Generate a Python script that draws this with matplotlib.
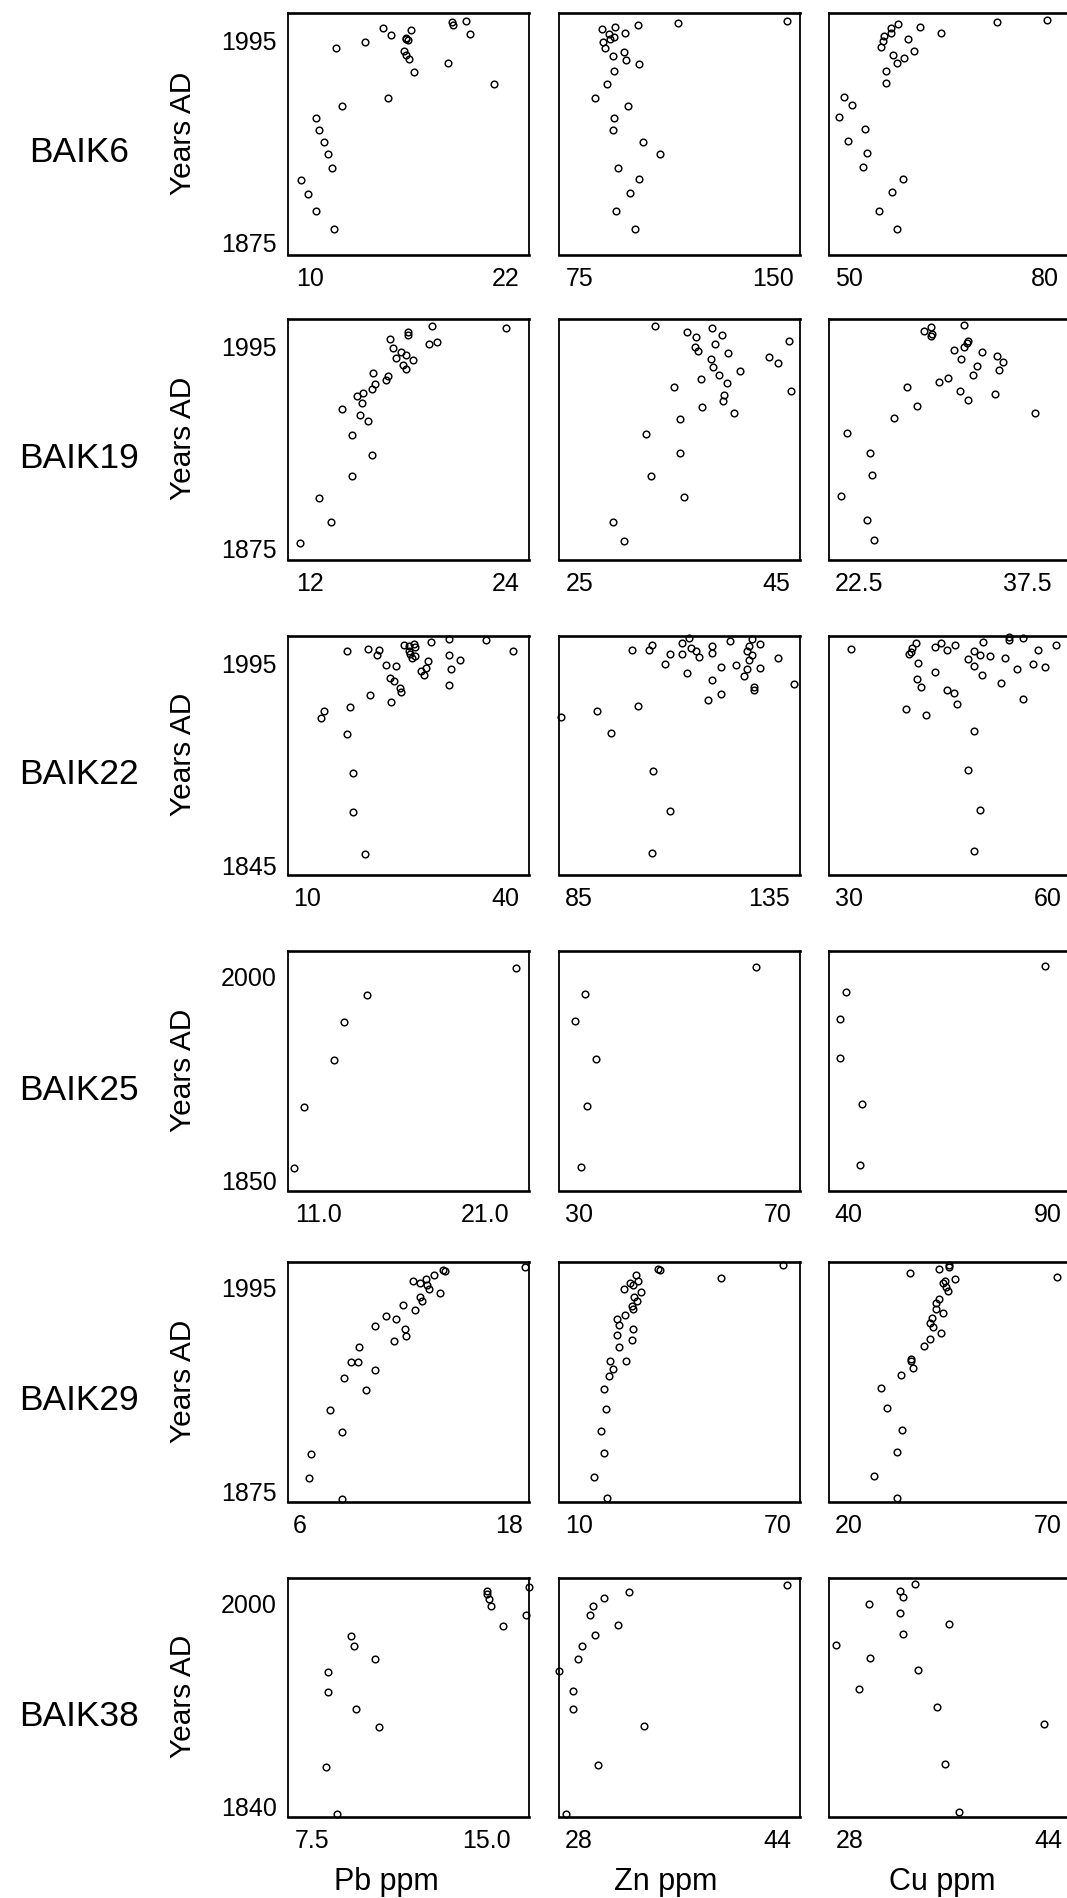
import matplotlib
matplotlib.use("Agg")
import matplotlib.pyplot as plt

plt.rcParams["font.family"] = ["Liberation Sans", "DejaVu Sans"]

# ---- BAIK6 ----
pb6_yr = [2005.4, 2004.8, 2003.3, 2001.7, 2000.5, 1998.1, 1997.4, 1995.8, 1995.0, 1994.2,
          1993.4, 1989.7, 1987.7, 1985.6, 1983.0, 1980.6, 1975.7, 1968.6, 1960.4, 1955.5,
          1948.4, 1941.3, 1934.2, 1927.1, 1918.9, 1911.8, 1903.5, 1893.1, 1882.5]
pb6 = [19.6, 18.7, 18.8, 14.5, 16.2, 19.8, 15.0, 15.9, 15.9, 16.0, 13.4, 11.6, 15.8, 15.9, 16.1,
       18.5, 16.4, 21.3, 14.8, 12.0, 10.4, 10.6, 10.9, 11.1, 11.4, 9.5, 9.9, 10.4, 11.5]
zn6_yr = [2005.8, 2004.6, 2003.3, 2002.1, 2000.7, 1998.3, 1997.8, 1996.0, 1995.0, 1993.4,
          1989.9, 1987.5, 1985.2, 1982.8, 1980.4, 1975.9, 1968.6, 1960.4, 1955.7, 1948.6,
          1941.5, 1934.4, 1927.3, 1918.9, 1912.0, 1904.1, 1893.1, 1882.7]
zn6 = [155.3, 113.3, 97.7, 89.0, 83.7, 92.7, 86.4, 88.5, 87.0, 84.2, 84.8, 92.2, 87.9, 93.2,
       98.0, 88.5, 85.8, 81.1, 94.0, 88.5, 87.9, 99.8, 106.4, 90.1, 98.0, 94.8, 89.3, 96.7]
cu6_yr = [2006.0, 2004.8, 2003.9, 2002.3, 2001.3, 1998.5, 1998.3, 1997.0, 1995.0, 1994.0,
          1990.5, 1988.1, 1985.8, 1983.6, 1980.8, 1976.3, 1969.0, 1961.0, 1956.0, 1949.0,
          1941.9, 1934.6, 1927.5, 1919.3, 1912.4, 1904.3, 1893.5, 1882.9]
cu6 = [80.3, 72.7, 57.5, 60.8, 56.4, 64.1, 56.4, 55.4, 59.0, 55.2, 54.9, 59.9, 56.8, 58.4,
       57.3, 55.7, 55.6, 49.2, 50.5, 48.5, 52.5, 49.8, 52.8, 52.1, 58.3, 56.6, 54.6, 57.3]

# ---- BAIK19 ----
pb19_yr = [2006.5, 2005.3, 2003.1, 2001.1, 1999.0, 1997.2, 1995.8, 1993.4, 1991.0, 1989.6,
           1987.3, 1986.3, 1983.5, 1981.3, 1978.9, 1976.8, 1974.2, 1971.8, 1969.2, 1966.8,
           1964.7, 1960.9, 1957.3, 1953.7, 1950.2, 1942.0, 1930.1, 1917.1, 1904.0, 1889.7, 1877.6]
pb19 = [19.5, 24.0, 18.0, 18.0, 16.9, 19.8, 19.3, 17.1, 17.6, 17.9, 17.3, 18.3, 17.7, 17.9,
        15.9, 16.8, 16.7, 16.0, 15.8, 15.3, 14.9, 15.2, 14.0, 15.1, 15.6, 14.6, 15.8, 14.6,
        12.6, 13.3, 11.4]
zn19_yr = [2006.9, 2005.7, 2003.3, 2001.0, 1999.8, 1997.8, 1996.2, 1994.2, 1991.8, 1990.4,
           1988.3, 1987.1, 1984.7, 1982.1, 1980.1, 1977.3, 1975.2, 1972.6, 1970.2, 1967.8,
           1965.8, 1961.9, 1958.3, 1954.7, 1951.0, 1942.4, 1930.9, 1917.5, 1904.8, 1890.1, 1878.4]
zn19 = [32.7, 38.5, 35.9, 39.5, 36.8, 46.3, 38.8, 36.7, 37.0, 40.1, 44.2, 38.4, 45.1, 38.6,
        41.3, 39.2, 37.3, 40.0, 34.6, 46.5, 39.7, 39.6, 37.4, 40.7, 35.2, 31.8, 35.2, 32.3,
        35.6, 28.4, 29.5]
cu19_yr = [2007.5, 2006.3, 2003.7, 2001.9, 2000.4, 1997.8, 1996.8, 1994.0, 1992.2, 1991.0,
           1988.5, 1987.1, 1984.9, 1982.7, 1980.5, 1977.7, 1975.6, 1973.0, 1970.6, 1968.2,
           1966.0, 1962.3, 1958.7, 1955.1, 1951.6, 1943.0, 1931.1, 1918.2, 1905.2, 1890.9, 1879.0]
cu19 = [31.9, 28.9, 28.3, 29.0, 28.9, 32.2, 32.1, 31.9, 31.0, 33.5, 34.8, 31.6, 35.3, 33.0,
        35.0, 32.7, 30.4, 29.6, 26.8, 31.5, 34.6, 32.2, 27.7, 38.2, 25.6, 21.5, 23.5, 23.7,
        20.9, 23.2, 23.9]

# ---- BAIK22 ----
pb22_yr = [2003.9, 2005.2, 2004.2, 2000.5, 2007.9, 2007.6, 2009.1, 2006.7, 2003.7, 2001.7,
           1998.7, 1999.7, 2010.1, 2012.6, 2011.6, 2003.4, 2000.7, 1997.2, 1993.3, 1992.3,
           1996.0, 1991.3, 1989.0, 1986.1, 1990.0, 1983.8, 1981.4, 1975.9, 1973.2, 1978.1,
           1970.7, 1966.0, 1962.3, 1958.8, 1953.8, 1941.9, 1913.2, 1883.7, 1852.9]
pb22 = [16.0, 19.2, 20.9, 20.6, 24.6, 25.4, 26.1, 26.3, 25.4, 25.6, 25.9, 26.4, 28.8, 31.4,
        37.0, 41.1, 31.4, 33.1, 21.9, 23.4, 28.3, 28.0, 27.2, 27.7, 31.7, 22.5, 23.2, 24.1,
        24.2, 31.4, 19.5, 22.7, 16.6, 12.6, 12.2, 16.0, 17.0, 17.0, 18.8]
zn22_yr = [1954.6, 1959.3, 1942.7, 1963.0, 2004.4, 2004.4, 2008.4, 1994.0, 2001.2, 2009.4,
           2001.2, 2013.1, 2006.2, 2003.9, 1999.2, 1987.1, 2007.4, 2002.4, 1982.4, 1967.0,
           1992.0, 1971.9, 2011.1, 1993.3, 1985.1, 1990.0, 2003.7, 2007.4, 2012.4, 2000.5,
           1996.7, 2008.9, 1991.0, 1976.9, 1974.7, 1998.2, 1979.4, 1914.2, 1884.7, 1853.7]
zn22 = [80.4, 89.9, 93.5, 100.5, 99.1, 103.6, 104.4, 107.8, 108.9, 112.2, 112.2, 114.0, 114.5,
        115.7, 116.7, 113.5, 120.0, 120.1, 119.9, 119.0, 122.5, 122.5, 124.7, 126.3, 128.3,
        129.1, 129.3, 129.8, 130.4, 130.4, 129.7, 132.6, 132.6, 131.0, 131.0, 137.2, 141.5,
        104.5, 109.0, 104.2]
cu22_yr = [2005.2, 1960.5, 1956.1, 2001.7, 2002.7, 2005.7, 2009.4, 1994.8, 1983.1, 1977.1,
           2006.9, 1987.8, 2009.4, 2004.4, 1974.9, 1972.4, 2008.1, 1964.0, 1997.5, 2003.7,
           1992.8, 1943.9, 1915.2, 2001.0, 1885.7, 1854.7, 2010.6, 1985.8, 2000.0, 1979.9,
           1998.7, 2014.1, 2011.9, 1990.5, 2013.1, 1968.0, 1994.0, 2004.7, 1991.8, 2008.4]
cu22 = [30.2, 38.5, 41.6, 39.1, 39.3, 39.5, 40.1, 40.4, 40.2, 40.8, 42.9, 42.9, 43.8, 44.7,
        44.7, 45.9, 46.0, 46.3, 48.0, 48.8, 48.8, 48.9, 47.9, 49.8, 49.8, 48.9, 50.2, 50.0,
        51.3, 52.9, 53.6, 54.1, 54.1, 55.3, 56.3, 56.2, 57.7, 58.5, 59.6, 61.2]

# ---- BAIK25 ----
pb25_yr = [2005.4, 1986.0, 1965.8, 1937.6, 1903.4, 1858.4]
pb25 = [22.9, 13.9, 12.5, 11.9, 10.1, 9.5]
zn25_yr = [2006.4, 1986.7, 1966.6, 1938.3, 1904.1, 1859.4]
zn25 = [65.6, 31.3, 29.3, 33.5, 31.6, 30.5]
cu25_yr = [2006.9, 1987.7, 1967.8, 1939.5, 1905.6, 1860.6]
cu25 = [89.2, 39.4, 37.8, 37.8, 43.5, 43.0]

# ---- BAIK29 ----
pb29_yr = [2007.0, 2005.2, 2004.2, 2001.9, 1999.5, 1998.3, 1997.3, 1996.3, 1993.7, 1991.5,
           1988.9, 1986.5, 1984.2, 1981.4, 1978.0, 1975.9, 1972.3, 1970.0, 1966.3, 1963.1,
           1959.4, 1950.9, 1950.9, 1946.4, 1941.7, 1934.6, 1922.8, 1909.8, 1896.6, 1882.5, 1870.1]
pb29 = [18.9, 14.2, 14.3, 13.7, 13.2, 12.5, 12.9, 13.3, 13.4, 14.0, 12.9, 13.0, 11.9, 12.6,
        10.9, 11.5, 10.3, 12.0, 12.1, 11.4, 9.4, 8.9, 9.3, 10.3, 8.5, 9.8, 7.7, 8.4, 6.6, 6.5, 8.4]
zn29_yr = [2007.8, 2000.3, 2005.4, 2004.8, 2002.3, 1997.3, 1998.7, 1996.4, 1994.0, 1991.9,
           1989.1, 1986.5, 1983.8, 1981.8, 1978.5, 1976.3, 1972.8, 1970.4, 1966.9, 1963.7,
           1959.8, 1951.6, 1951.6, 1946.9, 1942.4, 1935.1, 1923.3, 1910.3, 1897.3, 1883.2, 1870.6]
zn29 = [71.5, 52.9, 33.7, 34.3, 27.1, 25.2, 27.7, 26.3, 23.6, 28.7, 26.5, 27.5, 25.9, 26.1,
        23.8, 21.3, 22.1, 26.1, 21.5, 25.9, 21.9, 19.3, 24.2, 20.1, 19.0, 17.4, 18.2, 16.6,
        17.4, 14.5, 18.4]
cu29_yr = [2003.3, 2005.8, 2007.8, 2006.8, 1999.9, 1998.5, 1997.2, 1994.8, 1992.6, 1988.1,
           1985.6, 1982.0, 1979.7, 1976.5, 1973.7, 1971.2, 1967.8, 1964.3, 1960.3, 1952.5,
           1951.3, 1947.4, 1943.1, 1935.8, 1924.0, 1911.0, 1898.0, 1883.6, 1870.8, 2001.1]
cu29 = [35.4, 42.7, 45.3, 45.3, 46.6, 44.1, 43.8, 44.4, 44.9, 42.7, 42.0, 41.9, 43.6, 41.0,
        40.5, 41.2, 43.1, 40.5, 39.0, 35.6, 35.7, 36.1, 33.2, 28.1, 29.6, 33.5, 32.3, 26.5,
        32.3, 72.2]

# ---- BAIK38 ----
pb38_yr = [1833.2, 1870.6, 1929.7, 1944.9, 1915.8, 1901.9, 1973.8, 1965.6, 1955.1, 2009.2,
           2006.3, 2002.9, 1997.1, 1981.6, 1990.0, 2012.3]
pb38 = [8.6, 8.1, 8.2, 8.2, 9.4, 10.4, 9.2, 9.3, 10.2, 15.0, 15.0, 15.1, 15.2, 15.7, 16.7, 16.8]
zn38_yr = [1833.4, 1945.7, 1930.2, 1916.3, 1955.3, 1965.8, 1973.9, 1990.0, 1997.1, 2003.1,
           2007.9, 1981.9, 1902.7, 1871.5, 2013.6]
zn38 = [26.9, 26.4, 27.5, 27.5, 27.9, 28.2, 29.3, 28.9, 29.1, 30.0, 32.0, 31.1, 33.2, 29.5, 44.8]
cu38_yr = [1966.4, 1931.5, 1956.2, 1998.7, 2009.2, 2004.5, 2014.2, 1991.6, 1975.1, 1946.8,
           1983.2, 1917.9, 1872.8, 1835.0, 1904.3]
cu38 = [26.9, 28.8, 29.7, 29.6, 32.1, 32.3, 33.3, 32.1, 32.3, 33.5, 36.0, 35.1, 35.7, 36.8, 43.7]

cores = ["BAIK6", "BAIK19", "BAIK22", "BAIK25", "BAIK29", "BAIK38"]
elements = ["Pb ppm", "Zn ppm", "Cu ppm"]
series = [
    [(pb6_yr, pb6), (zn6_yr, zn6), (cu6_yr, cu6)],
    [(pb19_yr, pb19), (zn19_yr, zn19), (cu19_yr, cu19)],
    [(pb22_yr, pb22), (zn22_yr, zn22), (cu22_yr, cu22)],
    [(pb25_yr, pb25), (zn25_yr, zn25), (cu25_yr, cu25)],
    [(pb29_yr, pb29), (zn29_yr, zn29), (cu29_yr, cu29)],
    [(pb38_yr, pb38), (zn38_yr, zn38), (cu38_yr, cu38)],
]

year_ticks = [[1875, 1995], [1875, 1995], [1845, 1995], [1850, 2000], [1875, 1995], [1840, 2000]]
x_ticks = [
    [["10", "22"], ["75", "150"], ["50", "80"]],
    [["12", "24"], ["25", "45"], ["22.5", "37.5"]],
    [["10", "40"], ["85", "135"], ["30", "60"]],
    [["11.0", "21.0"], ["30", "70"], ["40", "90"]],
    [["6", "18"], ["10", "70"], ["20", "70"]],
    [["7.5", "15.0"], ["28", "44"], ["28", "44"]],
]

# ---- layout (pixels of a 1067 x 1899 figure) ----
W, H = 1067, 1899
row_px = [(14, 256), (320, 561), (637, 876), (952, 1192), (1263, 1503), (1579, 1818)]
col_px = [288, 559, 829]
panel_w = 241
ylims = [(1867.3, 2010.4), (1867.3, 2010.8), (1837.0, 2014.8),
         (1841.4, 2018.2), (1868.5, 2009.7), (1830.9, 2019.1)]
xlims = [
    [(8.68, 23.43), (67.2, 160.4), (46.9, 83.9)],
    [(10.68, 25.43), (22.96, 47.37), (19.86, 41.28)],
    [(7.18, 43.51), (79.92, 143.08), (26.93, 63.37)],
    [(9.15, 23.66), (26.03, 74.44), (35.17, 95.5)],
    [(5.31, 19.12), (3.87, 76.67), (15.17, 75.5)],
    [(6.49, 16.82), (26.37, 45.83), (26.37, 45.77)],
]

fig = plt.figure(figsize=(W / 100, H / 100), dpi=100)

for r, core in enumerate(cores):
    top, bot = row_px[r]
    for c in range(3):
        ax = fig.add_axes([col_px[c] / W, 1 - bot / H, panel_w / W, (bot - top) / H])
        yrs, vals = series[r][c]
        ax.plot(vals, yrs, linestyle="none", marker="o", markersize=4.8,
                markerfacecolor="none", markeredgecolor="black", markeredgewidth=1.05,
                clip_on=False)
        ax.set_xlim(*xlims[r][c])
        ax.set_ylim(*ylims[r])
        labels = x_ticks[r][c]
        ax.set_xticks([float(t) for t in labels])
        ax.set_xticklabels(labels)
        if c == 0:
            ax.set_yticks(year_ticks[r])
            ax.set_yticklabels([str(y) for y in year_ticks[r]])
        else:
            ax.set_yticks([])
        ax.tick_params(length=0, labelsize=18, pad=8)
        for side, sp in ax.spines.items():
            sp.set_linewidth(1.9 if side in ("top", "bottom") else 1.3)

    mid = (top + bot) / 2
    fig.text(79 / W, 1 - (mid + 18) / H, core, fontsize=25.5, ha="center", va="center")
    fig.text(183 / W, 1 - (mid - 2) / H, "Years AD", fontsize=21.5, rotation=90,
             ha="center", va="center")

for c, name in enumerate(elements):
    fig.text([386, 666, 942][c] / W, 1 - 1882 / H, name, fontsize=22,
             ha="center", va="center")

fig.savefig("out.png", dpi=100)
